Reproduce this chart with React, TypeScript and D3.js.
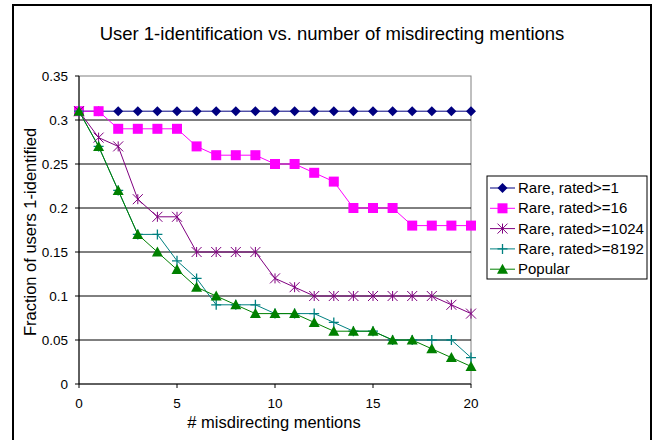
import React from "react";
import * as d3 from "d3";

const mentions = d3.range(0, 21);
const rated1 = [0.31, 0.31, 0.31, 0.31, 0.31, 0.31, 0.31, 0.31, 0.31, 0.31, 0.31, 0.31, 0.31, 0.31, 0.31, 0.31, 0.31, 0.31, 0.31, 0.31, 0.31];
const rated16 = [0.31, 0.31, 0.29, 0.29, 0.29, 0.29, 0.27, 0.26, 0.26, 0.26, 0.25, 0.25, 0.24, 0.23, 0.2, 0.2, 0.2, 0.18, 0.18, 0.18, 0.18];
const rated1024 = [0.31, 0.28, 0.27, 0.21, 0.19, 0.19, 0.15, 0.15, 0.15, 0.15, 0.12, 0.11, 0.1, 0.1, 0.1, 0.1, 0.1, 0.1, 0.1, 0.09, 0.08];
const rated8192 = [0.31, 0.27, 0.22, 0.17, 0.17, 0.14, 0.12, 0.09, 0.09, 0.09, 0.08, 0.08, 0.08, 0.07, 0.06, 0.06, 0.05, 0.05, 0.05, 0.05, 0.03];
const popular = [0.31, 0.27, 0.22, 0.17, 0.15, 0.13, 0.11, 0.1, 0.09, 0.08, 0.08, 0.08, 0.07, 0.06, 0.06, 0.06, 0.05, 0.05, 0.04, 0.03, 0.02];

const yTicks = [0, 0.05, 0.1, 0.15, 0.2, 0.25, 0.3, 0.35];
const xTicks = [0, 5, 10, 15, 20];

type Marker = "diamond" | "square" | "asterisk" | "plus" | "triangle";
type Series = { name: string; values: number[]; color: string; marker: Marker };

const series: Series[] = [
  { name: "Rare, rated>=1", values: rated1, color: "#000080", marker: "diamond" },
  { name: "Rare, rated>=16", values: rated16, color: "#ff00ff", marker: "square" },
  { name: "Rare, rated>=1024", values: rated1024, color: "#800080", marker: "asterisk" },
  { name: "Rare, rated>=8192", values: rated8192, color: "#008080", marker: "plus" },
  { name: "Popular", values: popular, color: "#008000", marker: "triangle" },
];

const FONT = "'Liberation Sans', Arial, sans-serif";

const drawMarker = (m: Marker, cx: number, cy: number, color: string, key: string | number) => {
  switch (m) {
    case "diamond":
      return <path key={key} d={`M${cx},${cy - 5}L${cx + 5},${cy}L${cx},${cy + 5}L${cx - 5},${cy}Z`} fill={color} />;
    case "square":
      return <rect key={key} x={cx - 5} y={cy - 5} width={10} height={10} fill={color} />;
    case "triangle":
      return <path key={key} d={`M${cx},${cy - 5.5}L${cx + 5.5},${cy + 4.5}L${cx - 5.5},${cy + 4.5}Z`} fill={color} />;
    case "plus":
      return (
        <path key={key} d={`M${cx - 5},${cy}H${cx + 5}M${cx},${cy - 5}V${cy + 5}`} stroke={color} strokeWidth={1.3} fill="none" />
      );
    case "asterisk":
      return (
        <path
          key={key}
          d={`M${cx - 5},${cy - 5}L${cx + 5},${cy + 5}M${cx - 5},${cy + 5}L${cx + 5},${cy - 5}M${cx},${cy - 5}V${cy + 5}`}
          stroke={color}
          strokeWidth={1}
          fill="none"
        />
      );
  }
};

const App = () => {
  const width = 654;
  const height = 440;
  const x = d3.scaleLinear().domain([0, 20]).range([79, 471]);
  const y = d3.scaleLinear().domain([0, 0.35]).range([384, 76]);
  const line = d3
    .line<number>()
    .x((_, i) => x(mentions[i]))
    .y((d) => y(d));

  return (
    <div style={{ position: "absolute", left: 0, top: 0 }}>
      <svg width={width} height={height} fontFamily={FONT}>
        <rect x={0} y={0} width={width} height={height} fill="#fff" />
        <rect x={13} y={5} width={638} height={445} fill="none" stroke="#000" strokeWidth={2} />
        <text x={332} y={40} textAnchor="middle" fontSize={18.5}>
          User 1-identification vs. number of misdirecting mentions
        </text>

        {/* plot area */}
        <rect x={x(0)} y={y(0.35)} width={x(20) - x(0)} height={y(0) - y(0.35)} fill="none" stroke="#808080" />
        {yTicks.slice(1, -1).map((t) => (
          <line key={t} x1={x(0)} x2={x(20)} y1={y(t)} y2={y(t)} stroke="#000" />
        ))}
        <line x1={x(0)} x2={x(0)} y1={y(0.35)} y2={y(0)} stroke="#000" />
        <line x1={x(0)} x2={x(20)} y1={y(0)} y2={y(0)} stroke="#000" />
        {yTicks.map((t) => (
          <g key={t}>
            <line x1={x(0) - 4} x2={x(0)} y1={y(t)} y2={y(t)} stroke="#000" />
            <text x={68} y={y(t) + 4.5} textAnchor="end" fontSize={13.5}>
              {t}
            </text>
          </g>
        ))}
        {xTicks.map((t) => (
          <g key={t}>
            <line x1={x(t)} x2={x(t)} y1={y(0)} y2={y(0) + 4} stroke="#000" />
            <text x={x(t)} y={408} textAnchor="middle" fontSize={13.5}>
              {t}
            </text>
          </g>
        ))}
        <text x={274} y={428} textAnchor="middle" fontSize={16.5}>
          # misdirecting mentions
        </text>
        <text transform="translate(36,232) rotate(-90)" textAnchor="middle" fontSize={16.5}>
          Fraction of users 1-identified
        </text>

        {series.map((s) => (
          <g key={s.name}>
            <path d={line(s.values) ?? ""} fill="none" stroke={s.color} strokeWidth={1} />
            {s.values.map((v, i) => drawMarker(s.marker, x(mentions[i]), y(v), s.color, i))}
          </g>
        ))}

        {/* legend */}
        <rect x={487} y={176} width={160} height={103} fill="#fff" stroke="#000" />
        {series.map((s, i) => {
          const ly = 188 + i * 20.3;
          return (
            <g key={s.name}>
              <line x1={490} x2={515} y1={ly} y2={ly} stroke={s.color} />
              {drawMarker(s.marker, 502.5, ly, s.color, "m")}
              <text x={518} y={ly + 5} fontSize={15}>
                {s.name}
              </text>
            </g>
          );
        })}
      </svg>
    </div>
  );
};

export default App;
